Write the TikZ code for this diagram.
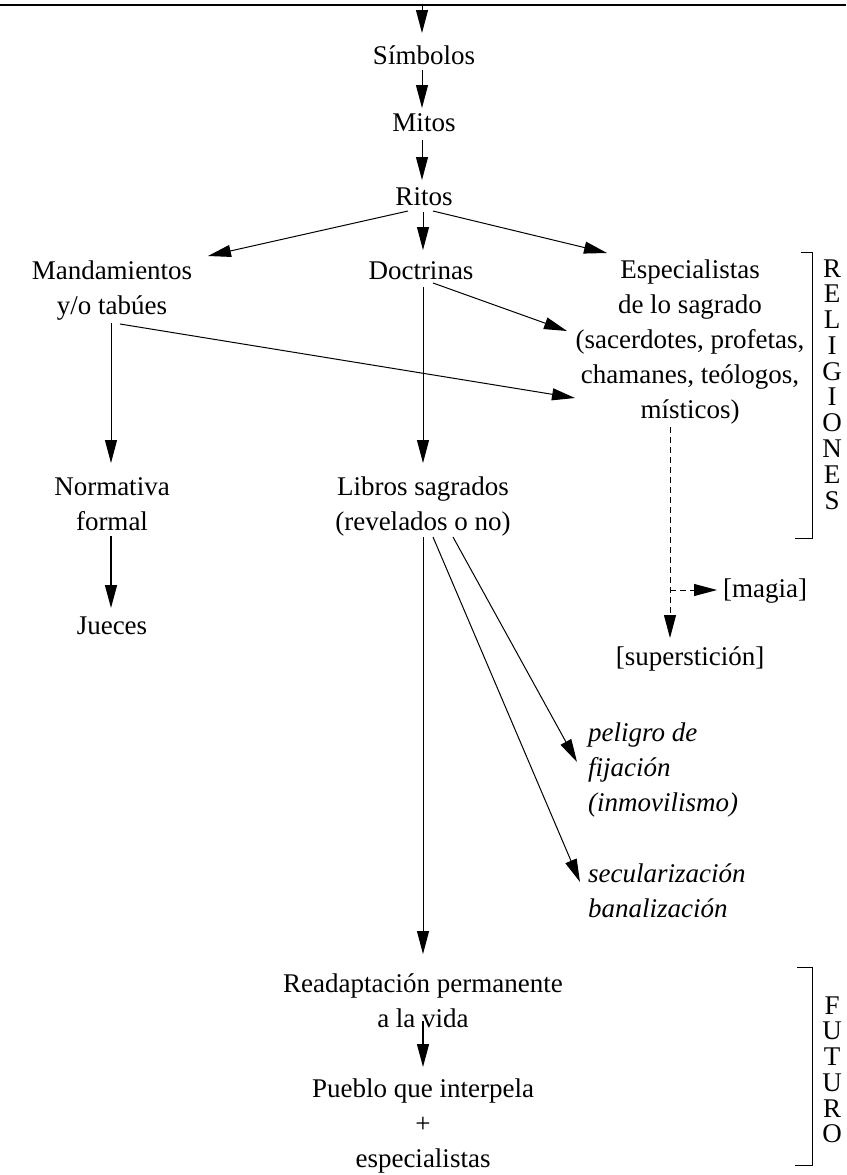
\documentclass[tikz,border=0pt]{standalone}
\usepackage{fontspec}
\setmainfont{Liberation Serif}
\usetikzlibrary{arrows.meta,calc}
\newcommand\mlc[1]{\begin{tabular}[t]{@{}c@{}}#1\end{tabular}}
\newcommand\mll[1]{\begin{tabular}[t]{@{}l@{}}#1\end{tabular}}
\begin{document}
\begin{tikzpicture}[x=1pt,y=-1pt,
  lbl/.style={inner sep=0pt, anchor=base, font=\fontsize{27}{35}\selectfont},
  lbll/.style={lbl, anchor=base west},
  ital/.style={lbll, font=\fontsize{27}{35}\selectfont\itshape},
  conn/.style={line width=1pt},
  arr/.style={conn, -{Triangle[length=23pt,width=12pt]}},
  darr/.style={arr, dash pattern=on 6pt off 4pt},
]
\path[use as bounding box] (0,0) rectangle (846,1175);

% top rule
\draw[line width=2pt] (0,5) -- (846,5);
\coordinate (top) at (422,5);

% nodes
\node[lbl] (sim) at (424,64) {Símbolos};
\node[lbl] (mitos) at (424,131) {Mitos};
\node[lbl] (ritos) at (424,205) {Ritos};
\node[lbl] (mand) at (112,279) {\mlc{Mandamientos\\y/o tabúes}};
\node[lbl] (doct) at (421,279) {Doctrinas};
\node[lbl] (esp) at (690,278) {\mlc{Especialistas\\de lo sagrado\\(sacerdotes, profetas,\\chamanes, teólogos,\\místicos)}};
\node[lbl] (norm) at (112,495) {\mlc{Normativa\\formal}};
\node[lbl] (lib) at (423,495) {\mlc{Libros sagrados\\(revelados o no)}};
\node[lbl] (jue) at (112,634) {Jueces};
\node[lbll] (magia) at (723,597) {[magia]};
\node[lbl] (sup) at (690,665) {[superstición]};
\node[ital] (pel) at (588,741) {\mll{peligro de\\fijación\\(inmovilismo)}};
\node[ital] (sec) at (588,882) {\mll{secularización\\banalización}};
\node[lbl] (read) at (423,992) {\mlc{Readaptación permanente\\a la vida}};
\node[lbl] (pue) at (423,1097) {\mlc{Pueblo que interpela\\+\\especialistas}};
\node[lbl] (rel) at (832,277) {{\renewcommand\arraystretch{0.737}\mlc{R\\E\\L\\I\\G\\I\\O\\N\\E\\S}}};
\node[lbl] (fut) at (832,1014) {{\renewcommand\arraystretch{0.737}\mlc{F\\U\\T\\U\\R\\O}}};

% brackets
\draw[conn] (801,252) -- (812,252) -- (812,538) -- (795,538);
\draw[conn] (797,967) -- (812,967) -- (812,1165) -- (795,1165);

% connectors
\draw[arr] (top) -- ($(sim.base)+(-2,-31)$);
\draw[arr] ($(sim.base)+(-2,6)$) -- ($(mitos.base)+(-2,-23)$);
\draw[arr] ($(mitos.base)+(-2,9)$) -- ($(ritos.base)+(-2,-25)$);
\draw[arr] ($(ritos.base)+(-16,6)$) -- ($(mand.base)+(96,-23)$);
\draw[arr] ($(ritos.base)+(-1,7)$) -- ($(doct.base)+(2,-29)$);
\draw[arr] ($(ritos.base)+(9,6)$) -- ($(esp.base)+(-83,-25)$);
\draw[arr] ($(doct.base)+(12,4)$) -- ($(esp.base)+(-123,53)$);
\draw[arr] ($(mand.base)+(8,45)$) -- ($(esp.base)+(-115,120)$);
\draw[arr] ($(mand.base)+(-1,44)$) -- ($(norm.base)+(-1,-32)$);
\draw[arr] ($(doct.base)+(2,8)$) -- ($(lib.base)+(0,-32)$);
\draw[arr, line width=1.5pt] ($(norm.base)+(-1,41)$) -- ($(jue.base)+(-1,-26)$);
\draw[arr] ($(lib.base)+(0,42)$) -- ($(read.base)+(0,-38)$);
\draw[arr] ($(lib.base)+(10,42)$) -- ($(sec.base west)+(-8,0)$);
\draw[arr] ($(lib.base)+(30,42)$) -- ($(pel.base west)+(-11,21)$);
\draw[darr] ($(esp.base)+(-20,149)$) -- ($(sup.base)+(-20,-27)$);
\coordinate (fork) at ($(esp.base)+(-20,312)$);
\draw[darr] (fork) -- ($(magia.base west)+(-6,-7)$);
\draw[arr, line width=1.3pt] ($(read.base)+(0,29)$) -- ($(pue.base)+(0,-30)$);
\end{tikzpicture}
\end{document}
